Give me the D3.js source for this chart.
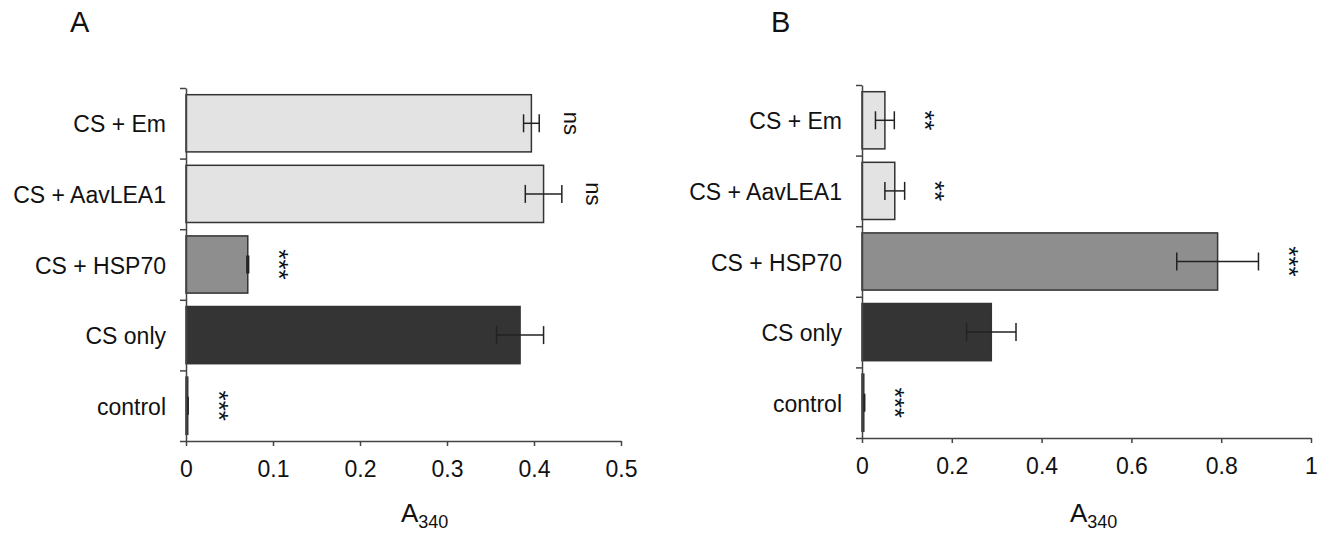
<!DOCTYPE html>
<html>
<head>
<meta charset="utf-8">
<script src="https://cdn.jsdelivr.net/npm/d3@7"></script>
<style>
  body { margin: 0; background: #fff; }
  svg { display: block; font-family: "Liberation Sans", Arial, sans-serif; }
</style>
</head>
<body>
<svg id="chart"></svg>
<script>
// data
const categories = ["CS + Em", "CS + AavLEA1", "CS + HSP70", "CS only", "control"];

const valuesA = [0.397, 0.411, 0.071, 0.384, 0.002];
const errorsA = [0.009, 0.021, 0.001, 0.027, 0.0005];
const signifA = ["ns", "ns", "***", "", "***"];
const ticksA = [0, 0.1, 0.2, 0.3, 0.4, 0.5];

const valuesB = [0.051, 0.073, 0.792, 0.288, 0.004];
const errorsB = [0.021, 0.022, 0.091, 0.055, 0.002];
const signifB = ["**", "**", "***", "", "***"];
const ticksB = [0, 0.2, 0.4, 0.6, 0.8, 1];

const barColors = ["#e3e3e3", "#e3e3e3", "#8e8e8e", "#343434", "#343434"];

const width = 1328,
  height = 537;

const svg = d3.select("#chart").attr("width", width).attr("height", height);

function drawPanel(cfg) {
  const { letter, letterX, values, errors, signif, ticks, x0, x1, top, bottom, titleX } = cfg;

  const g = svg.append("g");

  const x = d3.scaleLinear().domain([0, ticks[ticks.length - 1]]).range([x0, x1]);
  const y = d3.scaleBand().domain(categories).range([top, bottom]).paddingInner(0.19).paddingOuter(0.095);
  const yIdx = d3.scaleLinear().domain([0, categories.length]).range([top, bottom]);

  const rows = categories.map((c, i) => ({ cat: c, v: values[i], e: errors[i], s: signif[i], fill: barColors[i] }));

  // panel letter
  g.append("text")
    .attr("x", letterX)
    .attr("y", 32)
    .style("font-size", "29px")
    .attr("fill", "#111")
    .text(letter);

  // bars
  g.selectAll(".bar")
    .data(rows)
    .join("rect")
    .attr("class", "bar")
    .attr("x", x(0))
    .attr("y", (d) => y(d.cat))
    .attr("width", (d) => x(d.v) - x(0))
    .attr("height", y.bandwidth())
    .attr("fill", (d) => d.fill)
    .attr("stroke", "#333")
    .attr("stroke-width", 1.5);

  // error bars
  const err = g.selectAll(".err").data(rows).join("g").attr("class", "err")
    .attr("transform", (d) => `translate(0, ${y(d.cat) + y.bandwidth() / 2})`);
  err.append("line")
    .attr("x1", (d) => x(d.v - d.e))
    .attr("x2", (d) => x(d.v + d.e))
    .attr("stroke", "#222").attr("stroke-width", 1.5);
  err.append("line")
    .attr("x1", (d) => x(d.v - d.e)).attr("x2", (d) => x(d.v - d.e))
    .attr("y1", -9).attr("y2", 9)
    .attr("stroke", "#222").attr("stroke-width", 1.5);
  err.append("line")
    .attr("x1", (d) => x(d.v + d.e)).attr("x2", (d) => x(d.v + d.e))
    .attr("y1", -9).attr("y2", 9)
    .attr("stroke", "#222").attr("stroke-width", 1.5);

  // significance marks, rotated
  g.selectAll(".sig")
    .data(rows.filter((d) => d.s))
    .join("text")
    .attr("class", "sig")
    .attr("transform", (d) => `translate(${x(d.v + d.e) + 32}, ${y(d.cat) + y.bandwidth() / 2}) rotate(90)`)
    .attr("text-anchor", "middle")
    .attr("dy", (d) => (d.s === "ns" ? "0.35em" : "0.4em"))
    .style("font-size", (d) => (d.s === "ns" ? "22px" : "26px"))
    .attr("fill", "#111")
    .text((d) => d.s);

  // y axis: ticks at band boundaries
  g.append("g")
    .attr("transform", `translate(${x0}, 0)`)
    .call(d3.axisLeft(yIdx).tickValues(d3.range(categories.length + 1)).tickSize(6).tickSizeOuter(0).tickFormat(""))
    .call((a) => a.selectAll("line,path").attr("stroke", "#444").attr("stroke-width", 1.5));

  // category labels
  g.selectAll(".cat")
    .data(rows)
    .join("text")
    .attr("class", "cat")
    .attr("x", x0 - 20)
    .attr("y", (d) => y(d.cat) + y.bandwidth() / 2 + 9)
    .attr("text-anchor", "end")
    .style("font-size", "23px")
    .attr("fill", "#111")
    .text((d) => d.cat);

  // x axis
  g.append("g")
    .attr("transform", `translate(0, ${bottom})`)
    .call(d3.axisBottom(x).tickValues(ticks).tickSize(5).tickSizeOuter(0).tickPadding(15).tickFormat(d3.format("")))
    .attr("font-family", null)
    .attr("font-size", null)
    .call((a) => {
      a.selectAll("line,path").attr("stroke", "#444").attr("stroke-width", 1.5);
      a.selectAll("text").style("font-size", "23px").attr("fill", "#111");
    });

  // axis title A340
  const t = g.append("text")
    .attr("x", titleX)
    .attr("y", 522)
    .style("font-size", "26px")
    .attr("fill", "#111");
  t.append("tspan").text("A");
  t.append("tspan").attr("dy", 6).style("font-size", "18px").text("340");
}

drawPanel({
  letter: "A", letterX: 70,
  values: valuesA, errors: errorsA, signif: signifA, ticks: ticksA,
  x0: 186, x1: 621, top: 88, bottom: 441, titleX: 401
});

drawPanel({
  letter: "B", letterX: 771,
  values: valuesB, errors: errorsB, signif: signifB, ticks: ticksB,
  x0: 862, x1: 1311, top: 85, bottom: 438, titleX: 1070
});
</script>
</body>
</html>
